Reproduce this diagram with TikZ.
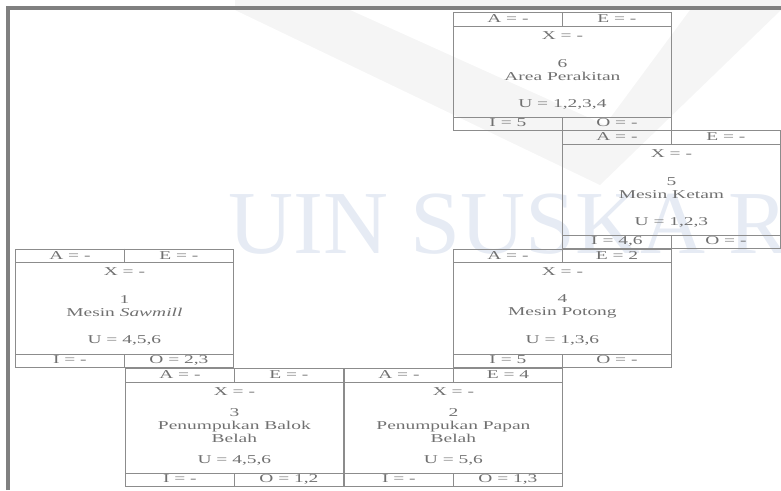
\documentclass[tikz,border=0pt]{standalone}
\usepackage{fontspec}
\setmainfont[FakeStretch=1.62]{Liberation Serif}
\newfontfamily\wmfont{Liberation Serif}
\usetikzlibrary{positioning}
\definecolor{ardline}{HTML}{8C8C8C}
\definecolor{ardtext}{HTML}{707070}
\definecolor{ardframe}{HTML}{808080}
\definecolor{wmblue}{HTML}{E6EBF4}
\definecolor{wmgray}{HTML}{F5F5F5}
\tikzset{
  ardbox/.style={draw=ardline, line width=0.8pt, minimum width=218pt,
                 minimum height=118pt, inner sep=0pt, anchor=north west},
  ardrule/.style={draw=ardline, line width=0.8pt},
  ardtxt/.style={text=ardtext, font=\fontsize{12}{13}\selectfont,
                 inner sep=0pt, anchor=base},
  ardname/.style={text=ardtext, font=\fontsize{12}{13}\selectfont,
                  inner sep=0pt, align=center},
  ardframe/.style={draw=ardframe, line width=4pt},
  wmark/.style={text=wmblue, font=\wmfont\fontsize{90}{90}\selectfont,
                inner sep=0pt, anchor=base west}
}
% one activity box: name, top-left corner, A, E, X, label, U, I, O
\newcommand{\ardnode}[9]{%
  \node[ardbox] (#1) at (#2) {};
  \draw[ardrule] ([yshift=-14pt]#1.north west) -- ([yshift=-14pt]#1.north east);
  \draw[ardrule] ([yshift=13pt]#1.south west) -- ([yshift=13pt]#1.south east);
  \draw[ardrule] (#1.north) -- ([yshift=-14pt]#1.north);
  \draw[ardrule] ([yshift=13pt]#1.south) -- (#1.south);
  \node[ardtxt] (#1-A) at ([xshift=-54.5pt,yshift=-10.5pt]#1.north) {A = #3};
  \node[ardtxt] (#1-E) at ([xshift=54.5pt,yshift=-10.5pt]#1.north) {E = #4};
  \node[ardtxt] (#1-X) at ([yshift=-27pt]#1.north) {X = #5};
  \node[ardname] (#1-name) at ([yshift=-58pt]#1.north) {#6};
  \node[ardtxt] (#1-U) at ([yshift=-95pt]#1.north) {U = #7};
  \node[ardtxt] (#1-I) at ([xshift=-54.5pt,yshift=4pt]#1.south) {I = #8};
  \node[ardtxt] (#1-O) at ([xshift=54.5pt,yshift=4pt]#1.south) {O = #9};
}

\begin{document}
\begin{tikzpicture}[x=1pt, y=-1pt]
  \useasboundingbox (0,0) rectangle (781,490);
  % watermark
  \fill[wmgray] (235,0) rectangle (781,6);
  \fill[wmgray] (235,10) -- (350,10) -- (605,125) -- (690,10) -- (781,10)
    -- (600,185) -- cycle;
  \node[wmark] (wm) at (228,253) {UIN SUSKA R};
  % frame
  \draw[ardframe] (8,490) -- (8,8) -- (781,8);
  % activity boxes
  \ardnode{b6}{453,12}{-}{-}{-}{6\\Area Perakitan}{1,2,3,4}{5}{-}
  \ardnode{b5}{562,130}{-}{-}{-}{5\\Mesin Ketam}{1,2,3}{4,6}{-}
  \ardnode{b4}{453,248.5}{-}{2}{-}{4\\Mesin Potong}{1,3,6}{5}{-}
  \ardnode{b1}{15,248.5}{-}{-}{-}{1\\Mesin \textit{Sawmill}}{4,5,6}{-}{2,3}
  \ardnode{b3}{125,368}{-}{-}{-}{3\\Penumpukan Balok\\Belah}{4,5,6}{-}{1,2}
  \ardnode{b2}{344,368}{-}{4}{-}{2\\Penumpukan Papan\\Belah}{5,6}{-}{1,3}
\end{tikzpicture}
\end{document}
